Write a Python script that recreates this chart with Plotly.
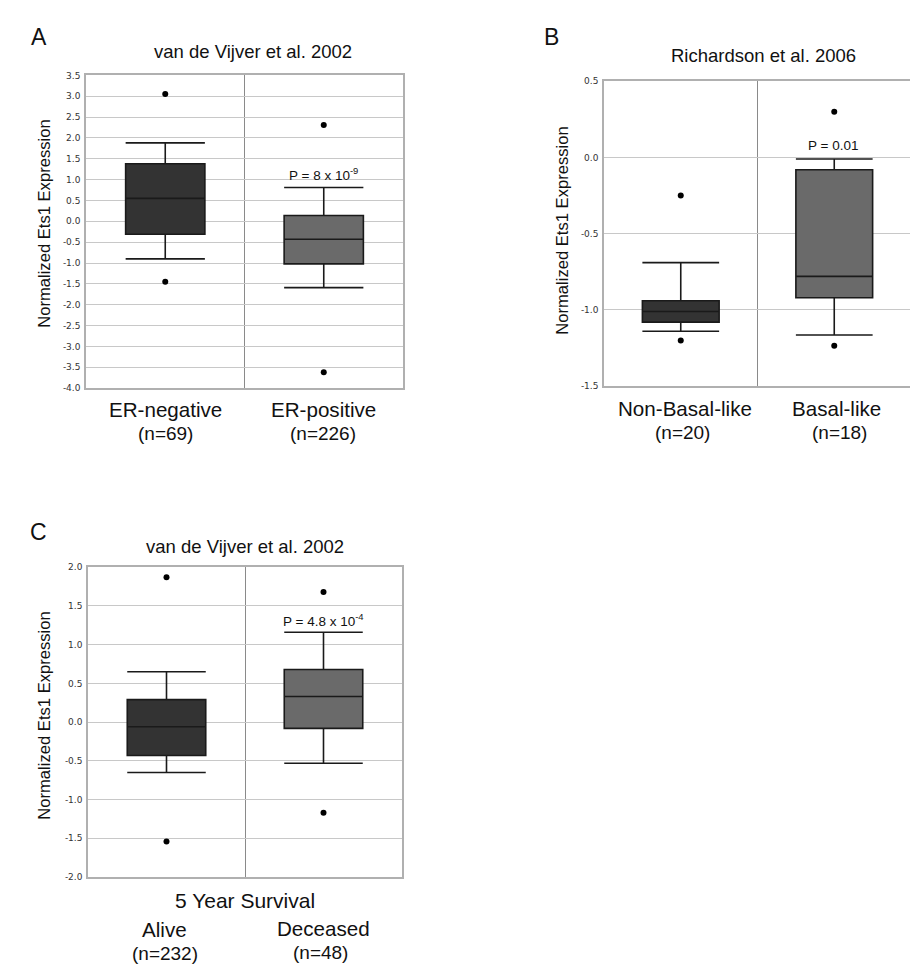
import plotly.graph_objects as go

W, H = 918, 972

# ---------------- data ----------------
# Panel A: van de Vijver et al. 2002 (ER status)
a_categories = ["ER-negative", "ER-positive"]
a_counts = ["(n=69)", "(n=226)"]
a_q1 = [-0.31, -1.02]
a_median = [0.55, -0.43]
a_q3 = [1.38, 0.14]
a_lower = [-0.90, -1.59]
a_upper = [1.88, 0.81]
a_outliers_low = [-1.45, -3.62]
a_outliers_high = [3.05, 2.31]
a_ticks = [3.5, 3.0, 2.5, 2.0, 1.5, 1.0, 0.5, 0.0, -0.5, -1.0, -1.5, -2.0, -2.5, -3.0, -3.5, -4.0]

# Panel B: Richardson et al. 2006
b_categories = ["Non-Basal-like", "Basal-like"]
b_counts = ["(n=20)", "(n=18)"]
b_q1 = [-1.08, -0.92]
b_median = [-1.01, -0.78]
b_q3 = [-0.94, -0.08]
b_lower = [-1.14, -1.165]
b_upper = [-0.69, -0.01]
b_outliers_low = [-1.20, -1.235]
b_outliers_high = [-0.25, 0.30]
b_ticks = [0.5, 0.0, -0.5, -1.0, -1.5]

# Panel C: van de Vijver et al. 2002 (5 year survival)
c_categories = ["Alive", "Deceased"]
c_counts = ["(n=232)", "(n=48)"]
c_q1 = [-0.43, -0.08]
c_median = [-0.06, 0.33]
c_q3 = [0.29, 0.68]
c_lower = [-0.65, -0.53]
c_upper = [0.65, 1.16]
c_outliers_low = [-1.54, -1.17]
c_outliers_high = [1.87, 1.68]
c_ticks = [2.0, 1.5, 1.0, 0.5, 0.0, -0.5, -1.0, -1.5, -2.0]

box_colors = ["#333333", "#6a6a6a"]

# ---------------- layout helpers ----------------
def xd(px0, px1):
    return [px0 / W, px1 / W]

def yd(top, bottom):
    return [1 - bottom / H, 1 - top / H]

panels = [
    dict(key="", cats=a_categories, q1=a_q1, med=a_median, q3=a_q3, lo=a_lower, hi=a_upper,
         ol=a_outliers_low, oh=a_outliers_high, ticks=a_ticks, rng=[-4.0, 3.5],
         xdom=xd(78, 395), ydom=yd(63, 379)),
    dict(key="2", cats=b_categories, q1=b_q1, med=b_median, q3=b_q3, lo=b_lower, hi=b_upper,
         ol=b_outliers_low, oh=b_outliers_high, ticks=b_ticks, rng=[-1.5, 0.5],
         xdom=xd(596, 903), ydom=yd(69, 377)),
    dict(key="3", cats=c_categories, q1=c_q1, med=c_median, q3=c_q3, lo=c_lower, hi=c_upper,
         ol=c_outliers_low, oh=c_outliers_high, ticks=c_ticks, rng=[-2.0, 2.0],
         xdom=xd(80, 394), ydom=yd(560, 873)),
]

fig = go.Figure()
layout = dict(width=W, height=H, margin=dict(l=0, r=0, t=0, b=0),
              paper_bgcolor="white", plot_bgcolor="white", showlegend=False,
              font=dict(family="Liberation Sans, Arial, sans-serif", color="#111"))

for p in panels:
    k = p["key"]
    xa, ya = "x" + k, "y" + k
    for i in range(2):
        fig.add_trace(go.Box(
            x=[i], q1=[p["q1"][i]], median=[p["med"][i]], q3=[p["q3"][i]],
            lowerfence=[p["lo"][i]], upperfence=[p["hi"][i]],
            width=0.5, whiskerwidth=1, fillcolor=box_colors[i],
            line=dict(color="#1a1a1a", width=1.6), boxpoints=False,
            xaxis=xa, yaxis=ya, hoverinfo="skip"))
    fig.add_trace(go.Scatter(
        x=[0, 1, 0, 1], y=p["oh"] + p["ol"], mode="markers",
        marker=dict(color="black", size=6), xaxis=xa, yaxis=ya, hoverinfo="skip"))
    layout["xaxis" + k] = dict(domain=p["xdom"], range=[-0.5, 1.5], tickvals=[0.5],
                               showticklabels=False, showgrid=True, gridcolor="#8a8a8a",
                               gridwidth=1, zeroline=False, showline=True, mirror=True,
                               linecolor="#b0b0b0", linewidth=1.5, ticks="",
                               anchor=ya)
    layout["yaxis" + k] = dict(domain=p["ydom"], range=p["rng"], tickvals=p["ticks"],
                               ticktext=["%.1f" % t for t in p["ticks"]],
                               showgrid=True, gridcolor="#c8c8c8", gridwidth=1,
                               zeroline=False, showline=True, mirror=True,
                               linecolor="#b0b0b0", linewidth=1.5, ticks="",
                               tickfont=dict(family="DejaVu Sans, Verdana, sans-serif",
                                             size=9, color="#333"),
                               ticklabelstandoff=2, anchor=xa)

fig.update_layout(**layout)

def ann(x, y, text, size, **kw):
    fig.add_annotation(x=x / W, y=1 - y / H, xref="paper", yref="paper", text=text,
                       showarrow=False, font=dict(size=size, color="#111",
                       family="Liberation Sans, Arial, sans-serif"),
                       xanchor=kw.pop("xanchor", "center"), yanchor=kw.pop("yanchor", "middle"), **kw)

# Panel letters
ann(31, 24, "A", 23)
ann(543, 24, "B", 23)
ann(30, 524, "C", 23)

# Titles
ann(245, 39, "van de Vijver et al. 2002", 18.5)
ann(755, 43, "Richardson et al. 2006", 18.5)
ann(237, 539, "van de Vijver et al. 2002", 18.5)

# Y axis titles
ann(37, 213, "Normalized Ets1 Expression", 16.6, textangle=-90)
ann(555, 220, "Normalized Ets1 Expression", 16.6, textangle=-90)
ann(37, 710, "Normalized Ets1 Expression", 16.6, textangle=-90)

# Category labels
ann(157, 401, a_categories[0], 20.6)
ann(315, 401, a_categories[1], 20.6)
ann(157, 425, a_counts[0], 19)
ann(315, 425, a_counts[1], 19)

ann(677, 400, b_categories[0], 20.6)
ann(828, 400, b_categories[1], 20.6)
ann(674, 424, b_counts[0], 19)
ann(831, 424, b_counts[1], 19)

ann(237, 897, "5 Year Survival", 21)
ann(156, 926, c_categories[0], 20.6)
ann(315, 925, c_categories[1], 20.6)
ann(157, 950, c_counts[0], 19)
ann(312, 949, c_counts[1], 19)

# P values
ann(315, 163, "P = 8 x 10<sup>-9</sup>", 13.5)
ann(825, 134, "P = 0.01", 13.5)
ann(315, 613, "P = 4.8 x 10<sup>-4</sup>", 13.5)

fig.write_html("out.html")
